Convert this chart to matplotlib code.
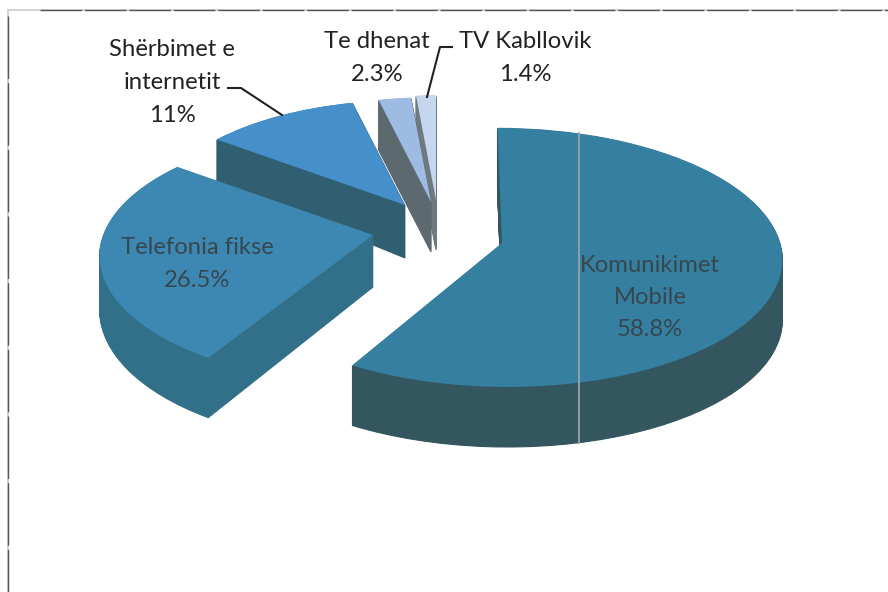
import matplotlib
matplotlib.use("Agg")
import matplotlib.pyplot as plt
from matplotlib.patches import Wedge
from matplotlib.transforms import Transform
import numpy as np

# ---- data ----
categories = ["Komunikimet\nMobile", "Telefonia fikse", "Shërbimet e\ninternetit", "Te dhenat", "TV Kabllovik"]
shares = [58.8, 26.5, 11, 2.3, 1.4]
share_labels = ["58.8%", "26.5%", "11%", "2.3%", "1.4%"]

# ---- layout (pixels of the 888x592 canvas) ----
apex = [(502, 243), (373, 235), (405, 205), (431, 202), (436, 200)]
radius = [1.0, 0.97, 0.9, 0.9, 0.9]
depth = [60, 52, 53, 50, 50]
depth_taper = [0.0, 0.18, 0.4, 0.0, 0.0]
persp = [0.111, 0.17, 0.111, 0.111, 0.111]
shear = [-5.0, 0.0, 0.0, 0.0, 0.0]
end_tweak = [1.5, 0.0, 0.0, 0.0, 0.0]
top_col = ["#357FA0", "#3D88B2", "#4590CB", "#9DBBE3", "#C6D6EF"]
wall_col = ["#33565F", "#32708A", "#2F5F70", "#5C6A70", "#6E7A80"]
label_xy = [(650, 265), (197, 248), (172, 50), (377, 42), (525, 42)]
label_col = ["#37474F", "#37474F", "#222222", "#222222", "#222222"]
draw_order = [4, 3, 2, 1, 0]
F, G = 278.0, 128.0
LINE = 32.5


class Persp(Transform):
    input_dims = output_dims = 2
    has_inverse = False

    def __init__(self, cx, cy, k, s, d, dk):
        super().__init__()
        self.cx, self.cy, self.k, self.s, self.d, self.dk = cx, cy, k, s, d, dk

    def transform_non_affine(self, v):
        v = np.asarray(v, float)
        w = 1 + self.k * v[:, 1]
        x = self.cx + (F * v[:, 0] + self.s * v[:, 1]) / w
        y = self.cy - G * v[:, 1] / w + self.d * (1 - self.dk * v[:, 1])
        return np.column_stack((x, y))


fig = plt.figure(figsize=(8.88, 5.92), dpi=100, facecolor="white")
ax = fig.add_axes([0, 0, 1, 1])
wedges, _ = ax.pie(shares, startangle=90, counterclock=False, colors=top_col)
ax.set_aspect("auto")
ax.set_xlim(0, 888)
ax.set_ylim(592, 0)
ax.axis("off")

for rank, i in enumerate(draw_order):
    w = wedges[i]
    w.set_radius(radius[i])
    w.set_theta1(w.theta1 + end_tweak[i])
    cx, cy = apex[i]
    base = 10 + rank * 100
    for d in range(depth[i], 0, -1):
        side = Wedge((0, 0), radius[i], w.theta1, w.theta2, facecolor=wall_col[i],
                     edgecolor=wall_col[i], linewidth=0.8, zorder=base)
        ax.add_patch(side)
        side.set_transform(Persp(cx, cy, persp[i], shear[i], d, depth_taper[i]) + ax.transData)
    w.set_transform(Persp(cx, cy, persp[i], shear[i], 0, 0) + ax.transData)
    w.set_zorder(base + 1)
    w.set_linewidth(0)

# scan streak over the big slice
ax.plot([579, 579], [133, 443], color="#9CA3A6", lw=1.3, zorder=800)

# leader lines
ax.plot([228, 241, 282], [88, 88, 115], color="#222222", lw=1.5, zorder=800)
ax.plot([452, 440, 427], [47, 47, 97], color="#222222", lw=1.5, zorder=800)

# labels
for i in range(len(shares)):
    lines = categories[i].split("\n") + [share_labels[i]]
    x, y = label_xy[i]
    for j, s in enumerate(lines):
        ax.text(x, y + j * LINE, s, ha="center", va="center", fontsize=17.2,
                family="Lato", color=label_col[i], zorder=900)

# scanned frame: pale base line with darker toner on top
ax.plot([8, 888], [9.5, 9.5], color="#cccccc", lw=1.2, zorder=1)
ax.plot([8, 8], [9.5, 592], color="#cccccc", lw=1.2, zorder=1)
ax.plot([40, 888], [9.5, 9.5], color="#555555", lw=1.0, ls=(0, (30, 2)), zorder=2)
ax.plot([8, 8], [16, 592], color="#555555", lw=1.0, ls=(0, (45, 3)), zorder=2)

fig.savefig("out.png", dpi=100)
